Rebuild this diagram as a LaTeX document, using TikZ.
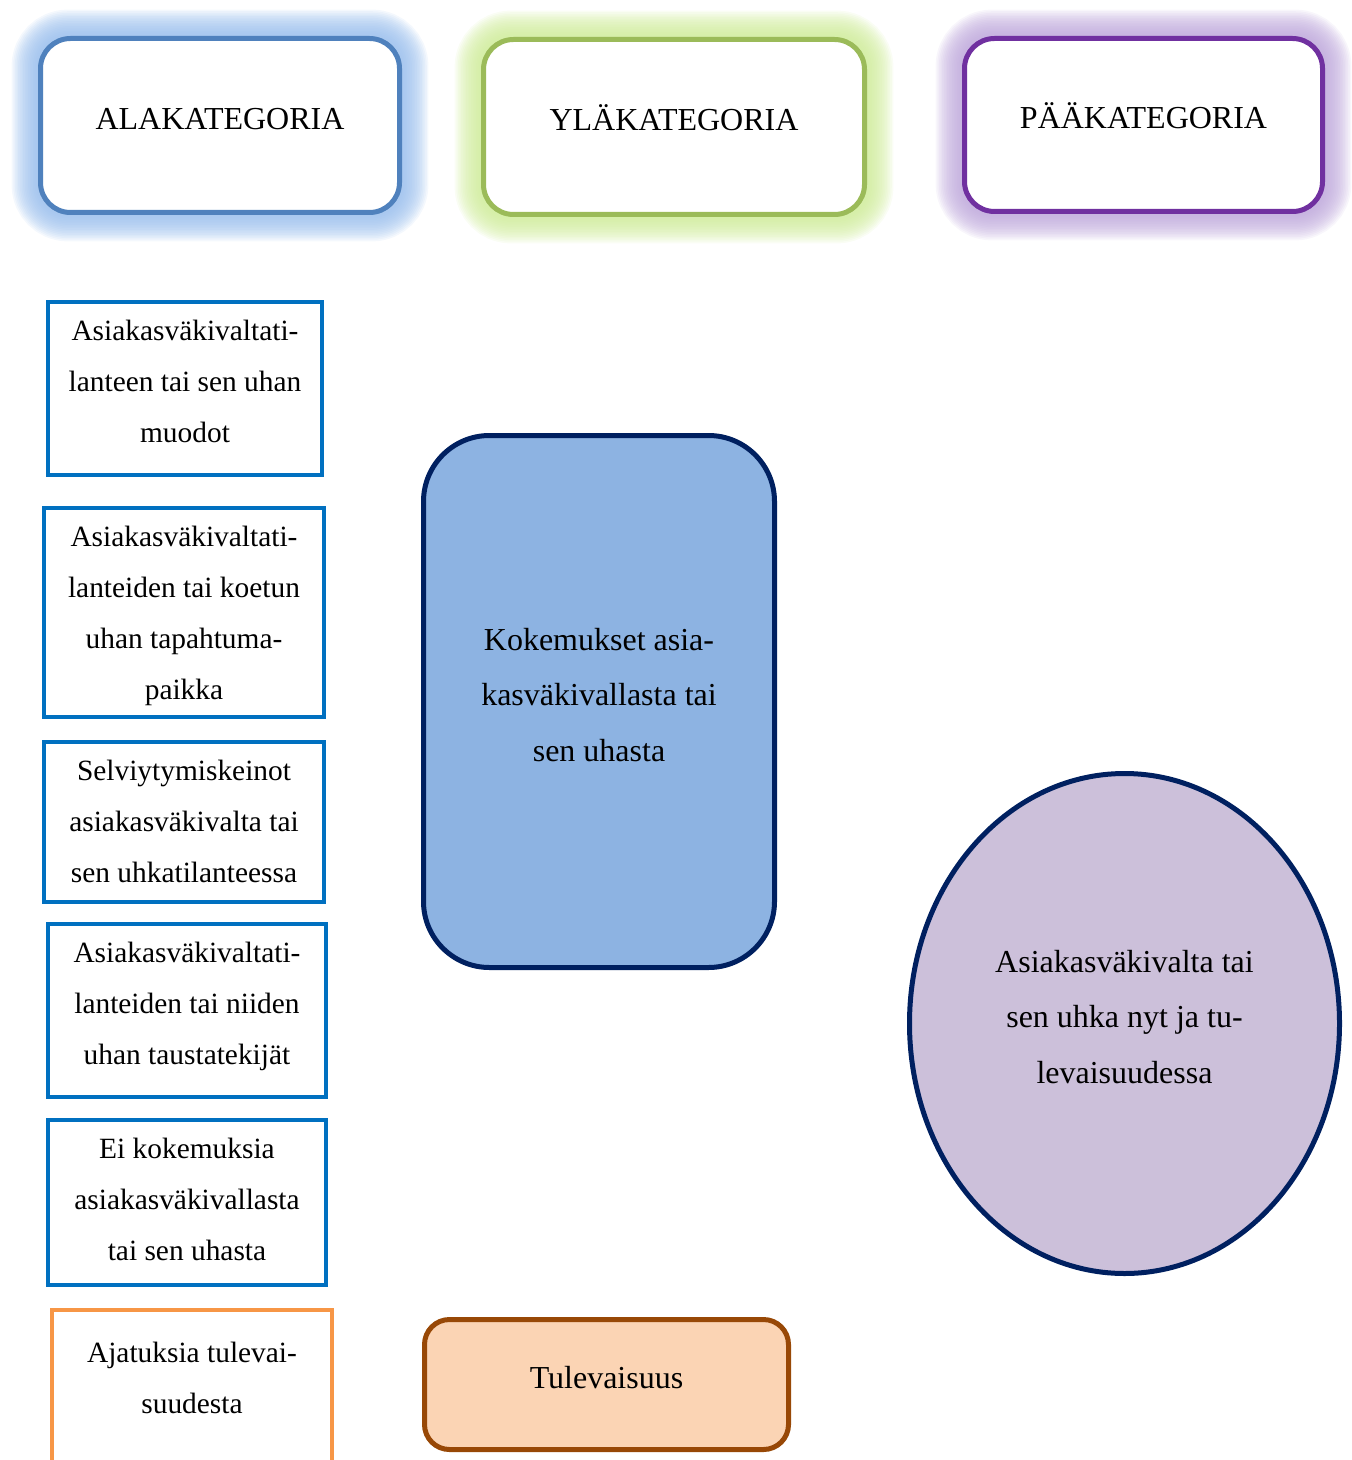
\documentclass[tikz,border=0pt]{standalone}
\usepackage{fontspec}
\setmainfont{Liberation Serif}
\usetikzlibrary{shapes.geometric,backgrounds}
\definecolor{headblue}{RGB}{79,129,189}
\definecolor{headgreen}{RGB}{155,187,89}
\definecolor{headpurple}{RGB}{112,48,160}
\definecolor{glowblue}{RGB}{150,188,236}
\definecolor{glowgreen}{RGB}{205,235,150}
\definecolor{glowpurple}{RGB}{188,165,218}
\definecolor{subblue}{RGB}{0,112,192}
\definecolor{suborange}{RGB}{247,150,70}
\definecolor{navy}{RGB}{0,32,96}
\definecolor{midblue}{RGB}{141,179,226}
\definecolor{lilac}{RGB}{204,192,218}
\definecolor{peach}{RGB}{251,212,180}
\definecolor{rust}{RGB}{152,72,6}

\begin{document}
\begin{tikzpicture}[x=0.5pt, y=-0.5pt,
    lift/.style={text depth=#1},
    header/.style={draw, line width=2.5pt, rounded corners=15pt, fill=white, inner sep=0pt, align=center, font=\fontsize{16}{20}\selectfont},
    subcat/.style={draw=subblue, line width=2pt, fill=white, inner sep=0pt, align=center, font=\fontsize{14.7}{25.5}\selectfont},
    bigtext/.style={line width=2.5pt, inner sep=0pt, align=center, font=\fontsize{16}{27.75}\selectfont}]
    \useasboundingbox (0,0) rectangle (1352,1460);

    % otsikot
    \node[header, draw=headblue, lift=7pt, minimum width=179.5pt, minimum height=87pt] (ala) at (220,125.5) {ALAKATEGORIA};
    \node[header, draw=headgreen, lift=9pt, minimum width=190.5pt, minimum height=87.5pt] (yla) at (674,127) {YLÄKATEGORIA};
    \node[header, draw=headpurple, lift=9pt, minimum width=179pt, minimum height=86.5pt] (paa) at (1143.5,125) {PÄÄKATEGORIA};

    \begin{scope}[on background layer]
        \foreach \n/\c in {ala/glowblue, yla/glowgreen, paa/glowpurple}
            \foreach \k in {1,...,16}
                \draw[\c, opacity=0.1, line width=\k*1.65pt, rounded corners=15pt] (\n.south west) rectangle (\n.north east);
    \end{scope}

    % alakategoriat
    \node[subcat, lift=7pt, minimum width=137pt, minimum height=86.5pt] (muodot) at (185,388.5) {Asiakasväkivaltati-\\lanteen tai sen uhan\\muodot};
    \node[subcat, lift=-3pt, minimum width=140pt, minimum height=104.5pt] (paikka) at (184,612.5) {Asiakasväkivaltati-\\lanteiden tai koetun\\uhan tapahtuma-\\paikka};
    \node[subcat, lift=1pt, minimum width=140pt, minimum height=80pt] (keinot) at (184,822) {Selviytymiskeinot\\asiakasväkivalta tai\\sen uhkatilanteessa};
    \node[subcat, lift=7.2pt, minimum width=139pt, minimum height=86.5pt] (tausta) at (187,1010.5) {Asiakasväkivaltati-\\lanteiden tai niiden\\uhan taustatekijät};
    \node[subcat, lift=3pt, minimum width=139pt, minimum height=82.5pt] (eikok) at (187,1202.5) {Ei kokemuksia\\asiakasväkivallasta\\tai sen uhasta};
    \node[subcat, draw=suborange, lift=9pt, minimum width=140pt, minimum height=77pt] (ajatus) at (192,1387) {Ajatuksia tulevai-\\suudesta};

    % yläkategoriat
    \node[bigtext, draw=navy, fill=midblue, lift=7pt, rounded corners=33pt, minimum width=175.5pt, minimum height=266pt] (kokem) at (599,701.5) {Kokemukset asia-\\kasväkivallasta tai\\sen uhasta};
    \node[bigtext, draw=rust, fill=peach, lift=7pt, rounded corners=12.5pt, minimum width=182pt, minimum height=65pt] (tulev) at (606.5,1384.5) {Tulevaisuus};

    % pääkategoria
    \node[bigtext, ellipse, draw=navy, fill=lilac, lift=7pt, minimum width=215pt, minimum height=250pt] (paak) at (1124.5,1023.5) {Asiakasväkivalta tai\\sen uhka nyt ja tu-\\levaisuudessa};
\end{tikzpicture}
\end{document}
